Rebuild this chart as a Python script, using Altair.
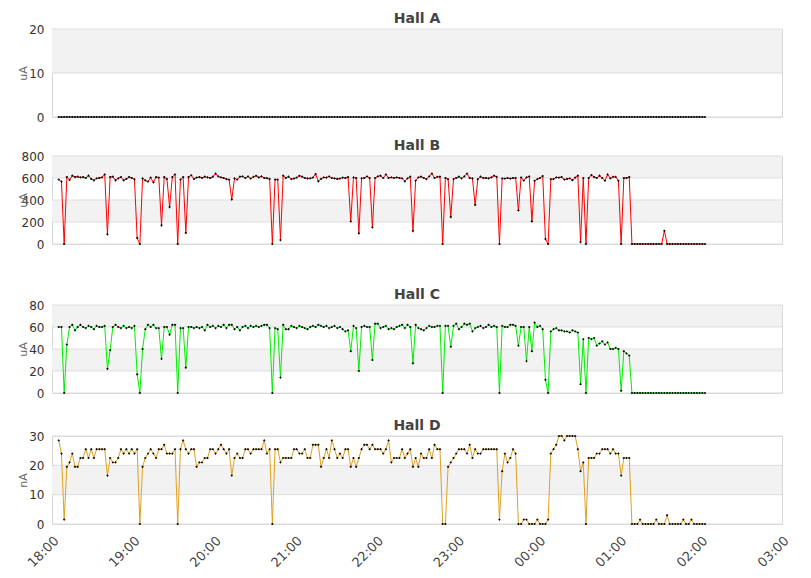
import altair as alt
import pandas as pd

# beam current readings, one every 2 minutes from 18:05
start = "2024-01-01 18:05"
step = "2min"

hall_a = [
    0, 0, 0, 0, 0, 0, 0, 0, 0, 0, 0, 0, 0, 0, 0, 0, 0, 0, 0, 0,
    0, 0, 0, 0, 0, 0, 0, 0, 0, 0, 0, 0, 0, 0, 0, 0, 0, 0, 0, 0,
    0, 0, 0, 0, 0, 0, 0, 0, 0, 0, 0, 0, 0, 0, 0, 0, 0, 0, 0, 0,
    0, 0, 0, 0, 0, 0, 0, 0, 0, 0, 0, 0, 0, 0, 0, 0, 0, 0, 0, 0,
    0, 0, 0, 0, 0, 0, 0, 0, 0, 0, 0, 0, 0, 0, 0, 0, 0, 0, 0, 0,
    0, 0, 0, 0, 0, 0, 0, 0, 0, 0, 0, 0, 0, 0, 0, 0, 0, 0, 0, 0,
    0, 0, 0, 0, 0, 0, 0, 0, 0, 0, 0, 0, 0, 0, 0, 0, 0, 0, 0, 0,
    0, 0, 0, 0, 0, 0, 0, 0, 0, 0, 0, 0, 0, 0, 0, 0, 0, 0, 0, 0,
    0, 0, 0, 0, 0, 0, 0, 0, 0, 0, 0, 0, 0, 0, 0, 0, 0, 0, 0, 0,
    0, 0, 0, 0, 0, 0, 0, 0, 0, 0, 0, 0, 0, 0, 0, 0, 0, 0, 0, 0,
    0, 0, 0, 0, 0, 0, 0, 0, 0, 0, 0, 0, 0, 0, 0, 0, 0, 0, 0, 0,
    0, 0, 0, 0, 0, 0, 0, 0, 0, 0, 0, 0, 0, 0, 0, 0, 0, 0, 0, 0,
]

hall_b = [
    585, 567, 0, 609, 582, 621, 609, 612, 606, 609,
    600, 621, 591, 579, 597, 600, 606, 633, 88, 609,
    612, 579, 597, 609, 579, 591, 609, 600, 588, 55,
    0, 597, 579, 567, 603, 560, 609, 603, 170, 609,
    591, 336, 609, 633, 0, 585, 609, 100, 609, 625,
    591, 603, 609, 600, 612, 606, 600, 612, 640, 615,
    606, 600, 590, 585, 403, 597, 585, 612, 615, 600,
    615, 595, 610, 620, 605, 615, 600, 598, 591, 0,
    585, 585, 36, 621, 600, 612, 590, 595, 603, 620,
    612, 600, 597, 597, 603, 636, 570, 591, 606, 603,
    615, 600, 597, 591, 594, 603, 600, 609, 206, 606,
    600, 97, 597, 600, 615, 600, 151, 600, 615, 621,
    600, 633, 600, 606, 600, 606, 600, 597, 570, 597,
    612, 118, 576, 606, 612, 600, 590, 615, 640, 600,
    610, 612, 0, 600, 590, 245, 590, 600, 612, 597,
    615, 640, 600, 597, 355, 590, 612, 600, 600, 597,
    606, 621, 610, 0, 597, 594, 600, 594, 600, 600,
    305, 606, 576, 606, 615, 205, 575, 590, 600, 618,
    45, 0, 590, 590, 606, 603, 609, 585, 591, 597,
    580, 603, 621, 18, 600, 0, 600, 627, 609, 600,
    621, 600, 575, 633, 597, 610, 610, 575, 0, 600,
    600, 609, 0, 0, 0, 0, 0, 0, 0, 0,
    0, 0, 0, 0, 120, 0, 0, 0, 0, 0,
    0, 0, 0, 0, 0, 0, 0, 0, 0, 0,
]

hall_c = [
    60, 60, 0, 44, 60, 62, 57, 60, 62, 60,
    59, 61, 60, 58, 61, 60, 60, 61, 22, 39,
    60, 62, 60, 59, 61, 59, 60, 59, 61, 17,
    0, 40, 58, 62, 60, 62, 59, 59, 31, 60,
    60, 53, 62, 62, 0, 59, 59, 23, 60, 60,
    59, 60, 59, 60, 57, 62, 60, 61, 59, 61,
    60, 62, 59, 62, 62, 58, 60, 57, 60, 61,
    59, 61, 60, 61, 60, 61, 62, 62, 59, 0,
    59, 58, 14, 62, 58, 58, 61, 60, 59, 61,
    60, 59, 58, 60, 61, 60, 62, 61, 60, 61,
    59, 60, 61, 59, 60, 58, 56, 57, 38, 61,
    59, 20, 60, 61, 60, 60, 30, 63, 63, 59,
    60, 61, 58, 59, 58, 60, 61, 62, 59, 62,
    60, 27, 62, 59, 58, 57, 59, 61, 60, 60,
    61, 61, 0, 61, 61, 42, 61, 63, 58, 60,
    63, 62, 63, 56, 59, 60, 61, 59, 60, 62,
    60, 61, 60, 0, 61, 60, 60, 62, 62, 61,
    43, 60, 60, 29, 60, 38, 64, 60, 61, 58,
    12, 0, 56, 58, 59, 57, 57, 56, 56, 55,
    57, 56, 55, 8, 49, 0, 50, 49, 50, 43,
    45, 47, 44, 46, 40, 40, 41, 40, 2, 38,
    36, 34, 0, 0, 0, 0, 0, 0, 0, 0,
    0, 0, 0, 0, 0, 0, 0, 0, 0, 0,
    0, 0, 0, 0, 0, 0, 0, 0, 0, 0,
]

hall_d = [
    28.5, 24, 1.5, 19.5, 21, 24, 19.5, 19.5, 22.5, 22.5,
    25.5, 22.5, 25.5, 22.5, 25.5, 25.5, 25.5, 25.5, 16.5, 22.5,
    21, 21, 22.5, 25.5, 24, 25.5, 24, 25.5, 24, 25.5,
    0, 19.5, 22.5, 24, 25.5, 24, 22.5, 25.5, 25.5, 27,
    24, 24, 24, 25.5, 0, 25.5, 28.5, 25.5, 24, 25.5,
    25.5, 19.5, 21, 21, 22.5, 22.5, 25.5, 25.5, 24, 25.5,
    27, 25.5, 24, 25.5, 16.5, 22.5, 24, 22.5, 22.5, 25.5,
    25.5, 24, 25.5, 25.5, 25.5, 25.5, 28.5, 24, 25.5, 0,
    25.5, 25.5, 21, 22.5, 22.5, 22.5, 22.5, 25.5, 25.5, 24,
    24, 25.5, 22.5, 22.5, 27, 27, 27, 19.5, 22.5, 25.5,
    22.5, 28.5, 25.5, 22.5, 24, 22.5, 25.5, 25.5, 19.5, 22.5,
    19.5, 22.5, 25.5, 27, 27, 25.5, 27, 25.5, 25.5, 25.5,
    24, 25.5, 28.5, 21, 22.5, 22.5, 22.5, 25.5, 22.5, 24,
    25.5, 19.5, 22.5, 19.5, 24, 22.5, 22.5, 25.5, 22.5, 27,
    25.5, 25.5, 0, 0, 19.5, 21, 22.5, 24, 25.5, 25.5,
    25.5, 24, 27, 22.5, 25.5, 24, 24, 25.5, 25.5, 25.5,
    25.5, 25.5, 25.5, 1.5, 18, 24, 21, 22.5, 25.5, 24,
    0, 0, 1.5, 1.5, 0, 0, 0, 1.5, 0, 0,
    0, 1.5, 24, 25.5, 27, 30, 30, 28.5, 30, 30,
    30, 30, 25.5, 18, 21, 0, 22.5, 22.5, 22.5, 24,
    24, 25.5, 25.5, 25.5, 24, 25.5, 24, 24, 16.5, 22.5,
    22.5, 22.5, 0, 0, 0, 1.5, 0, 0, 0, 0,
    0, 1.5, 0, 0, 0, 3, 0, 0, 0, 0,
    0, 1.5, 0, 0, 1.5, 0, 0, 0, 0, 0,
]

times = pd.date_range(start, periods=len(hall_b), freq=step)

FONT = "DejaVu Sans"
W = 730
H = 88

x_domain = [
    alt.DateTime(year=2024, month=1, date=1, hours=18),
    alt.DateTime(year=2024, month=1, date=2, hours=3),
]
hour_ticks = [alt.DateTime(year=2024, month=1, date=1, hours=h) for h in range(18, 24)] + [
    alt.DateTime(year=2024, month=1, date=2, hours=h) for h in range(0, 4)
]


def hall_panel(name, values, color, y_max, y_ticks, unit, bands, bottom=False):
    df = pd.DataFrame({"time": times, "value": values})
    band_df = pd.DataFrame({"y0": [b[0] for b in bands], "y1": [b[1] for b in bands]})
    grid_df = pd.DataFrame({"tick": y_ticks})

    if bottom:
        x_axis = alt.Axis(
            values=hour_ticks, format="%H:%M", labelAngle=-45, labelAlign="right",
            labelBaseline="top", labelPadding=10, labelFontSize=13, labelColor="#444",
            ticks=False, domain=False, grid=False, title=None,
        )
    else:
        x_axis = None

    y_scale = alt.Scale(domain=[0, y_max], nice=False, clamp=True)
    y_axis = alt.Axis(
        values=y_ticks, title=unit, ticks=False, domain=False, labelOverlap=False,
        grid=False, labelPadding=8, labelFontSize=12, labelColor="#333",
        titleColor="#666", titleFontSize=11, titleFontWeight="normal",
        titleX=-29, titleY=H / 2, titleAngle=270, titleAlign="center",
        titleBaseline="middle",
    )

    x = alt.X("time:T", scale=alt.Scale(domain=x_domain), axis=x_axis)
    y = alt.Y("value:Q", scale=y_scale, axis=y_axis)

    back = alt.Chart(band_df).mark_rect(color="#f2f2f2").encode(
        x=alt.value(0), x2=alt.value(W),
        y=alt.Y("y0:Q", scale=y_scale, axis=y_axis),
        y2="y1:Q",
    )
    grid = alt.Chart(grid_df).mark_rule(color="#dddddd", strokeWidth=1).encode(
        y=alt.Y("tick:Q", scale=y_scale, axis=y_axis),
    )
    line = alt.Chart(df).mark_line(color=color, strokeWidth=1).encode(x=x, y=y)
    dots = alt.Chart(df).mark_point(
        shape="cross", filled=True, size=5, color="black", opacity=1
    ).encode(x=x, y=y)

    return alt.layer(back, grid, line, dots).properties(
        width=W, height=H,
        title=alt.TitleParams(name, fontSize=14, fontWeight="bold", color="#444",
                              font=FONT, offset=-3),
    )


a = hall_panel("Hall A", hall_a, "#333333", 20, [0, 10, 20], "uA", [(10, 20)])
b = hall_panel("Hall B", hall_b, "#ff0000", 800, [0, 200, 400, 600, 800], "uA",
               [(200, 400), (600, 800)])
c = hall_panel("Hall C", hall_c, "#00ee00", 80, [0, 20, 40, 60, 80], "uA",
               [(20, 40), (60, 80)])
d = hall_panel("Hall D", hall_d, "#e0a020", 30, [0, 10, 20, 30], "nA", [(10, 20)],
               bottom=True)

chart = alt.vconcat(
    alt.vconcat(a, b, spacing=14),
    alt.vconcat(c, d, spacing=18),
    spacing=36,
).properties(
    padding={"left": 8, "top": 3, "right": 5, "bottom": 5}
).configure_view(
    stroke="#d8d8d8"
).configure_axis(
    labelFont=FONT, titleFont=FONT
).configure_title(
    font=FONT
)

chart.save("out.html", embed_options={"renderer": "svg", "actions": False})
